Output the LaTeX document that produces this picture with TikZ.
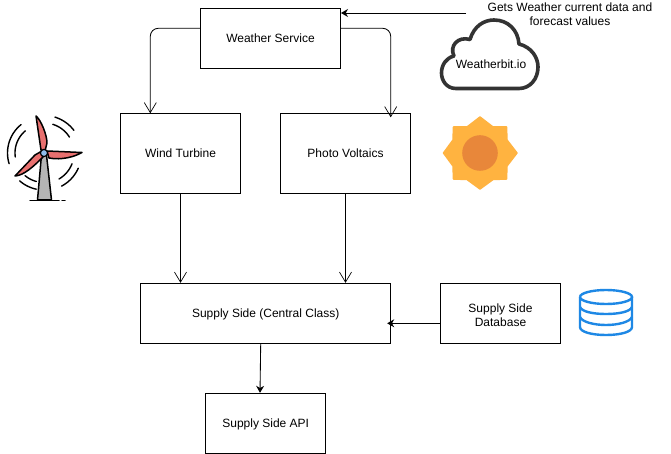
\documentclass[tikz,border=0pt]{standalone}
\usepackage{fontspec}
\setmainfont{Liberation Sans}
\usetikzlibrary{arrows.meta,calc}
\definecolor{sunout}{HTML}{FFB340}
\definecolor{sunin}{HTML}{E8873A}
\definecolor{dbblue}{HTML}{1E88E5}
\definecolor{cloudgrey}{HTML}{333333}
\definecolor{bladered}{HTML}{E8706F}
\definecolor{towergrey}{HTML}{B5B5B5}
\definecolor{hubblue}{HTML}{8FBDEB}
\tikzset{
  box/.style={draw=black,line width=1pt,fill=white,font=\fontsize{12}{14}\selectfont,align=center,inner sep=0pt},
  onebox/.style={box,text height=11pt,text depth=2.2pt},
  label/.style={font=\fontsize{12}{14}\selectfont,align=center,inner sep=0pt},
  conn/.style={draw=black,line width=0.85pt},
  openarrow/.style={conn,-{Straight Barb[length=10pt,width=12pt,line width=0.7pt]}},
  fillarrow/.style={conn,-{Stealth[length=7pt,width=8pt]}},
  bladefill/.style={draw=black,line width=1.5pt,fill=bladered,line join=round},
  swirl/.style={draw=black,line width=1.4pt,line cap=round}
}
\begin{document}
\begin{tikzpicture}[x=1pt,y=-1pt]
\useasboundingbox (0,0) rectangle (671,454);
\fill[white] (0,0) rectangle (671,454);
% boxes
\node[onebox,minimum width=140pt,minimum height=60pt] (weather) at (270.5,38.3) {Weather Service};
\node[onebox,minimum width=120pt,minimum height=80pt] (wind) at (180.5,153.3) {Wind Turbine};
\node[onebox,minimum width=130pt,minimum height=80pt] (pv) at (345.5,153.3) {Photo Voltaics};
\node[onebox,minimum width=250pt,minimum height=60pt] (supply) at (265.7,313.3) {Supply Side (Central Class)};
\node[box,minimum width=120pt,minimum height=60pt] (db) at (500.5,313.3) {\rule{0pt}{13pt}Supply Side\\Database};
\node[onebox,minimum width=120pt,minimum height=60pt] (api) at (265.7,423.3) {Supply Side API};
% free ends
\coordinate (cloudsrc) at (466,13);
% connectors
\draw[fillarrow] (cloudsrc) -- (cloudsrc -| weather.east);
\draw[openarrow,rounded corners=8pt] ([yshift=10pt]weather.west) -- (150.3,28.3) -- (150.3,113.3);
\draw[openarrow,rounded corners=8pt] ([yshift=10pt]weather.east) -- (390.7,28.3) -- (390.7,117.3);
\draw[openarrow] (wind.south) -- (wind.south |- supply.north);
\draw[openarrow] (pv.south) -- (pv.south |- supply.north);
\draw[fillarrow] ([yshift=-10pt]db.west) -- ([xshift=-4pt,yshift=-10pt]supply.east);
\draw[fillarrow] ([xshift=-5pt]supply.south) -- ([xshift=-5.7pt]api.north);
% annotation
\node[label] (gets) at (570,14) {Gets Weather current data and\\forecast values};
% cloud
\draw[cloudgrey,line width=3.6pt,fill=white,line join=round]
  (456,88.5) .. controls (446,88.5) and (441.5,80) .. (441.5,73)
  .. controls (441.5,65) and (446,58) .. (454,56)
  .. controls (449,46) and (458,36) .. (470,39.5)
  .. controls (474,26) and (484,20) .. (494,20)
  .. controls (508,20) and (518,30) .. (519,44)
  .. controls (531,47) and (538,57) .. (538,67)
  .. controls (538,79) and (530,88.5) .. (519,88.5)
  -- cycle;
\node[label] (cloudtext) at (491,64) {Weatherbit.io};
% sun
\fill[sunout,line join=round,draw=sunout,line width=1.5pt]
  (480,117) -- (493,127) -- (506.5,127) -- (507,140) -- (517,153) -- (507,166) -- (506.5,179)
  -- (493,179.5) -- (480,189) -- (467,179.5) -- (453.5,179) -- (453,166) -- (443.5,153)
  -- (453,140) -- (453.5,127) -- (467,127) -- cycle;
\fill[sunin] (480,153) circle[radius=17.8pt];
% database
\begin{scope}[dbblue,line width=2.4pt]
  \draw (580,297) arc[start angle=180,end angle=540,x radius=26pt,y radius=7pt];
  \draw (580,297) -- (580,327) .. controls (580,332) and (592,335) .. (606,335)
     .. controls (620,335) and (632,332) .. (632,327) -- (632,297);
  \draw (580,307) .. controls (582,312) and (594,314) .. (606,314) .. controls (618,314) and (630,312) .. (632,307);
  \draw (580,317) .. controls (582,322) and (594,325) .. (606,325) .. controls (618,325) and (630,322) .. (632,317);
\end{scope}
% turbine
\foreach \r/\a/\b in {37.5/37/73,30/32/73,36.5/129/197,29/130/188,37/229/258,29.5/230/255,37.5/-62/-24,30/-60/-21}{
  \draw[swirl] plot[domain=\a:\b,samples=16,smooth] ({44+\r*cos(\x)},{153-\r*sin(\x)});
}
\draw[black,line width=1.5pt,line join=round,fill=towergrey] (41.5,155) -- (46.5,155) -- (51.5,200) -- (37.5,200) -- cycle;
\draw[black,line width=1.5pt,line cap=round] (30,200.5) -- (59,200.5);
\draw[black,line width=1.5pt,line cap=round] (62,200.5) -- (65,200.5);
\draw[bladefill] (41,150) -- (36,116) .. controls (41,120) and (47,135) .. (47,143) -- (45,151) -- cycle;
\draw[bladefill] (47,151) -- (82,152.5) .. controls (75,156.5) and (62,160.5) .. (49,158) -- cycle;
\draw[bladefill] (40.7,151.7) -- (35,155) -- (15,176) .. controls (24,175.5) and (34,166) .. (43,157) -- cycle;
\draw[black,line width=1.2pt,fill=hubblue] (44,153) circle[radius=3.6pt];
\end{tikzpicture}
\end{document}
